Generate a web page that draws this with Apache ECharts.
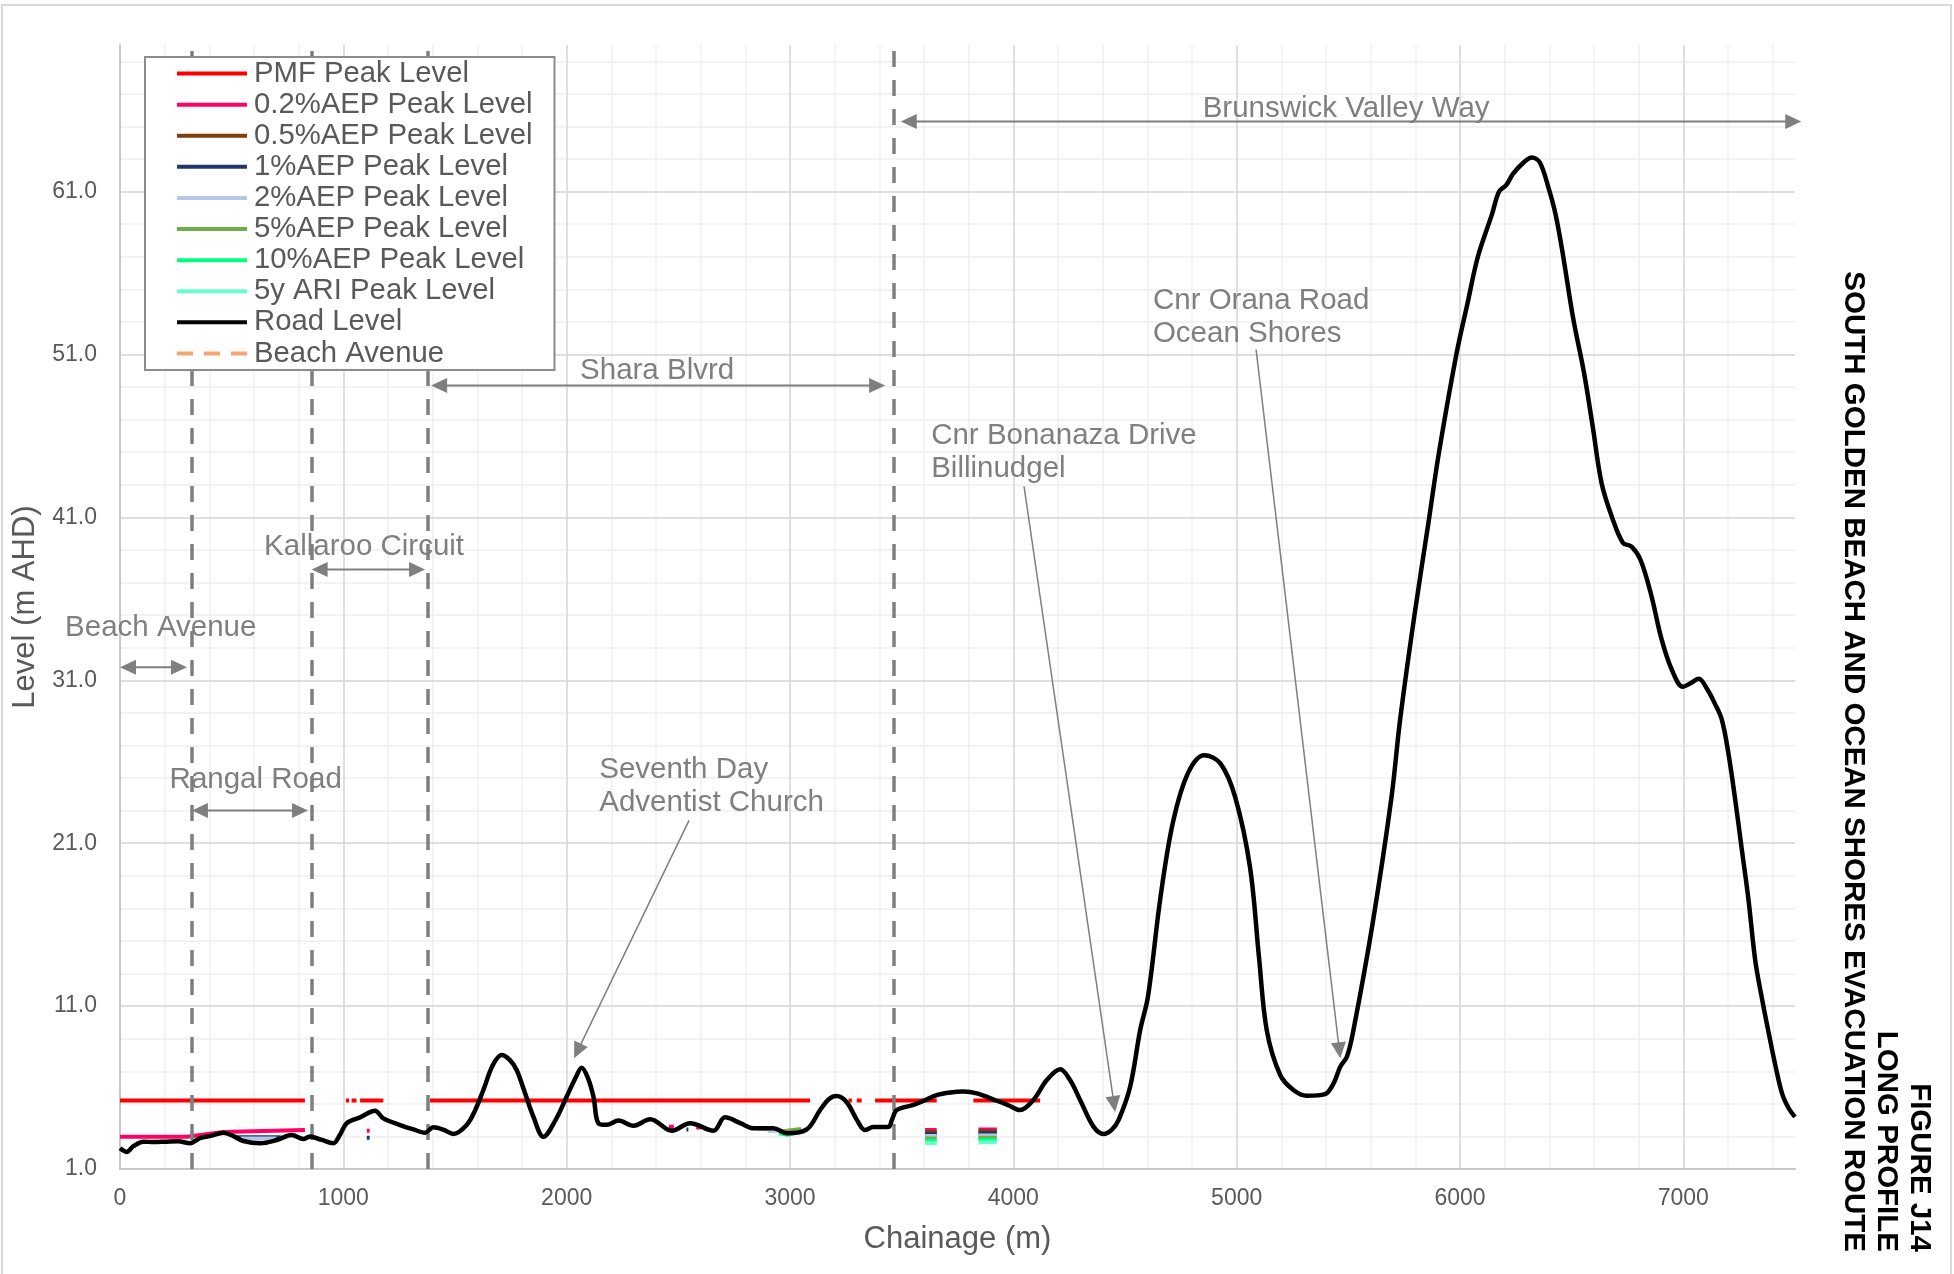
<!DOCTYPE html>
<html><head><meta charset="utf-8">
<script src="https://cdn.jsdelivr.net/npm/echarts@6/dist/echarts.min.js"></script>
<style>html,body{margin:0;padding:0;background:#fff}#c{width:1954px;height:1274px}</style>
</head><body><div id="c"></div>
<script>
// ---------- DATA ----------
const xTickValues = [0, 1000, 2000, 3000, 4000, 5000, 6000, 7000];
const yTickValues = [1, 11, 21, 31, 41, 51, 61];

const roadLevel = [
 [0,2.27],[30,2.05],[60,2.4],[104,2.68],[150,2.65],[209,2.68],[260,2.7],[313,2.58],[358,2.89],[410,3.05],
 [463,3.23],[510,3.0],[552,2.72],[627,2.58],[702,2.78],[769,3.09],[821,2.84],[851,3.0],[900,2.8],[955,2.58],
 [985,3.1],[1015,3.81],[1075,4.17],[1142,4.58],[1179,4.11],[1254,3.7],[1310,3.45],[1366,3.23],[1403,3.56],[1450,3.4],
 [1493,3.15],[1552,3.7],[1590,4.6],[1627,5.85],[1670,7.4],[1709,8.0],[1745,7.7],[1776,7.08],[1810,5.8],[1851,4.21],
 [1896,2.98],[1950,4.0],[2000,5.44],[2040,6.6],[2067,7.22],[2095,6.6],[2120,5.44],[2142,3.81],[2179,3.71],[2232,3.97],
 [2299,3.66],[2374,4.05],[2471,3.35],[2553,3.81],[2657,3.35],[2709,4.17],[2780,3.8],[2836,3.5],[2926,3.5],[2986,3.19],
 [3075,3.43],[3135,4.62],[3175,5.3],[3209,5.48],[3254,5.1],[3300,4.0],[3336,3.39],[3373,3.58],[3441,3.58],[3456,4.0],
 [3478,4.62],[3553,4.93],[3600,5.2],[3657,5.54],[3720,5.7],[3777,5.75],[3836,5.64],[3926,5.19],[3980,4.9],[4030,4.62],
 [4090,5.24],[4150,6.46],[4210,7.12],[4254,6.46],[4299,5.24],[4359,3.6],[4404,3.15],[4440,3.4],[4471,4.0],[4523,6.05],
 [4568,9.53],[4603,11.6],[4659,17.7],[4715,22.3],[4782,25.3],[4855,26.4],[4927,25.9],[4994,23.8],[5060,19.5],[5100,14.0],
 [5135,9.5],[5195,6.77],[5254,5.85],[5314,5.5],[5396,5.6],[5434,6.26],[5464,7.28],[5494,7.9],[5523,9.53],[5609,16.1],
 [5693,23.8],[5732,28.6],[5795,34.9],[5859,40.7],[5906,45.0],[5985,51.1],[6033,54.1],[6080,57.0],[6143,59.6],[6175,61.0],
 [6207,61.4],[6238,62.1],[6286,62.8],[6321,63.1],[6357,62.8],[6397,61.2],[6428,59.6],[6460,57.2],[6507,53.2],[6555,49.9],
 [6594,46.6],[6634,43.1],[6681,41.0],[6729,39.45],[6768,39.2],[6808,38.4],[6855,36.3],[6903,33.5],[6950,31.6],[6998,30.6],
 [7030,30.8],[7069,31.1],[7109,30.4],[7140,29.6],[7172,28.6],[7202,26.5],[7232,23.7],[7262,20.6],[7292,17.5],[7322,13.8],
 [7353,11.4],[7383,9.3],[7413,7.3],[7443,5.6],[7473,4.7],[7500,4.2]
];

const pmfLevel = [
 [0,5.2],[828,5.2],[830,'-'],[1012,5.2],[1026,5.2],[1030,'-'],[1037,5.2],[1059,5.2],[1065,'-'],[1075,5.2],[1179,5.2],[1185,'-'],
 [1388,5.2],[3090,5.2],[3100,'-'],[3262,5.2],[3277,5.2],[3285,'-'],[3299,5.2],[3321,5.2],[3330,'-'],[3381,5.2],[3657,5.2],[3700,'-'],
 [3821,5.2],[4120,5.2]
];
const aep02Level = [
 [0,2.98],[300,2.98],[463,3.27],[828,3.39],[830,'-'],[1105,3.35],[1118,3.35],[1120,'-'],[2458,3.6],[2480,3.6],[2485,'-'],
 [2580,3.55],[2600,3.55],[2605,'-'],[2855,3.52],[2900,3.52],[2905,'-'],[3605,3.39],[3657,3.39],[3700,'-'],[3844,3.43],[3926,3.43]
];
const aep05Level = [
 [2870,3.48],[2910,3.48],[2915,'-'],[3605,3.27],[3657,3.27],[3700,'-'],[3844,3.31],[3926,3.31]
];
const aep1Level = [
 [520,2.95],[720,2.95],[725,'-'],[1105,2.92],[1118,2.92],[1120,'-'],[2536,3.43],[2545,3.43],[2550,'-'],
 [3605,3.15],[3657,3.15],[3700,'-'],[3844,3.19],[3926,3.19]
];
const aep2Level = [
 [540,2.88],[700,2.88],[705,'-'],[2900,3.35],[2960,3.35],[2965,'-'],[3605,3.02],[3657,3.02],[3700,'-'],[3844,3.06],[3926,3.06]
];
const aep5Level = [
 [2960,3.3],[3050,3.45],[3055,'-'],[3605,2.88],[3657,2.88],[3700,'-'],[3844,2.92],[3926,2.92]
];
const aep10Level = [
 [2950,3.2],[2990,3.1],[3040,3.3],[3045,'-'],[3605,2.74],[3657,2.74],[3700,'-'],[3844,2.78],[3926,2.78]
];
const ari5yLevel = [
 [2850,3.45],[2880,3.45],[2885,'-'],[3605,2.6],[3657,2.6],[3700,'-'],[3844,2.64],[3926,2.64]
];
const beachAvenueLevel = [];

const sectionDividers = [322, 858, 1378, 3466];

// route sections (double arrows): [from, to, level]
const sectionNames = ['Beach Avenue','Rangal Road','Kallaroo Circuit','Shara Blvrd','Brunswick Valley Way'];
const sectionFrom  = [0, 322, 858, 1393, 3496];
const sectionTo    = [300, 842, 1366, 3426, 7528];
const sectionLevel = [31.8, 23.0, 37.8, 49.1, 65.3];

// point callouts (single arrows): text, arrow start, arrow tip
const calloutTexts = ['Seventh Day\nAdventist Church','Cnr Bonanaza Drive\nBillinudgel','Cnr Orana Road\nOcean Shores'];
const calloutFrom  = [[2548,22.4],[4048,42.9],[5087,51.3]];
const calloutTip   = [[2033,7.8],[4456,4.5],[5464,7.8]];

// ---------- STYLE / LAYOUT ----------
const FONT = '"Liberation Sans", Arial, sans-serif';
const GREY = '#7f7f7f';
const levelSeriesDefs = [
 {name:'PMF Peak Level', data:pmfLevel, color:'#FF0000'},
 {name:'0.2%AEP Peak Level', data:aep02Level, color:'#FF0066'},
 {name:'0.5%AEP Peak Level', data:aep05Level, color:'#843C0C'},
 {name:'1%AEP Peak Level', data:aep1Level, color:'#203864'},
 {name:'2%AEP Peak Level', data:aep2Level, color:'#B4C7E7'},
 {name:'5%AEP Peak Level', data:aep5Level, color:'#70AD47'},
 {name:'10%AEP Peak Level', data:aep10Level, color:'#00FF80'},
 {name:'5y ARI Peak Level', data:ari5yLevel, color:'#66FFCC'}
];

const series = levelSeriesDefs.map((d, i) => ({
  name: d.name, type:'line', xAxisIndex:1, yAxisIndex:1, data:d.data,
  symbol:'none', showSymbol:false, connectNulls:false, z: 3 + i * 0.01,
  lineStyle:{color:d.color, width:4}, itemStyle:{color:d.color},
  emphasis:{disabled:true}, animation:false
}));
series.push({
  name:'Road Level', type:'line', xAxisIndex:1, yAxisIndex:1, data:roadLevel,
  symbol:'none', showSymbol:false, smooth:0.35, z:5,
  lineStyle:{color:'#000', width:4.5}, itemStyle:{color:'#000'},
  emphasis:{disabled:true}, animation:false,
  markLine:{
    silent:true, symbol:'none', animation:false, label:{show:false},
    lineStyle:{color:GREY, width:3.5, type:[16,13]},
    data: sectionDividers.map(x => ({xAxis:x}))
  }
});
series.push({
  name:'Beach Avenue', type:'line', xAxisIndex:1, yAxisIndex:1, data:beachAvenueLevel,
  symbol:'none', lineStyle:{color:'#F4A672', width:4, type:[14,10]}, itemStyle:{color:'#F4A672'}, animation:false
});

const DASH_ICON = 'path://M0,0h16v4h-16z M27,0h16v4h-16z M54,0h16v4h-16z';
const legendNames = levelSeriesDefs.map(d => d.name).concat(['Road Level','Beach Avenue']);

const option = {
  animation:false,
  textStyle:{fontFamily:FONT},
  grid:{left:120, right:159, top:45, bottom:105, containLabel:false, outerBoundsMode:'none'},
  legend:{
    data:legendNames.map(n => ({name:n, icon: n === 'Beach Avenue' ? DASH_ICON : 'rect'})),
    orient:'vertical', left:145, top:57,
    padding:[1,22,1,32], itemGap:0, itemWidth:70, itemHeight:4,
    borderColor:'#8c8c8c', borderWidth:2, backgroundColor:'#fff',
    textStyle:{fontSize:29.3, color:'#595959', lineHeight:31.1, fontFamily:FONT, padding:[0,0,0,2]},
    selectedMode:false, z:20
  },
  xAxis:[
    {type:'value', position:'bottom', min:0, max:7500, interval:200, z:0,
     axisLine:{show:false}, axisTick:{show:false}, axisLabel:{show:false},
     splitLine:{show:true, showMaxLine:false, lineStyle:{color:'#efefef', width:1.5}}},
    {type:'value', position:'bottom', min:0, max:7500, interval:1000, z:1,
     name:'Chainage (m)', nameLocation:'middle', nameGap:55,
     nameTextStyle:{fontSize:31, color:'#595959', fontFamily:FONT},
     axisLine:{show:true, onZero:false, lineStyle:{color:'#c8c8c8', width:2}},
     axisTick:{show:false},
     axisLabel:{color:'#595959', fontSize:23, margin:18, fontFamily:FONT,
       formatter: v => xTickValues.includes(v) ? String(v) : ''},
     splitLine:{show:true, showMaxLine:false, lineStyle:{color:'#d9d9d9', width:1.5}}}
  ],
  yAxis:[
    {type:'value', position:'left', min:1, max:70, interval:2, z:0,
     axisLine:{show:false}, axisTick:{show:false}, axisLabel:{show:false},
     splitLine:{show:true, showMaxLine:false, lineStyle:{color:'#efefef', width:1.5}}},
    {type:'value', position:'left', min:1, max:70, interval:10, z:1,
     name:'Level (m AHD)', nameLocation:'middle', nameGap:72,
     nameTextStyle:{fontSize:31, color:'#595959', fontFamily:FONT},
     axisLine:{show:true, onZero:false, lineStyle:{color:'#c8c8c8', width:2}},
     axisTick:{show:false},
     axisLabel:{color:'#595959', fontSize:23, margin:23, fontFamily:FONT,
       formatter: v => yTickValues.includes(v) ? v.toFixed(1) : ''},
     splitLine:{show:true, showMaxLine:false, lineStyle:{color:'#d9d9d9', width:1.5}}}
  ],
  series
};

const chart = echarts.init(document.getElementById('c'), null, {renderer:'canvas'});
chart.setOption(option);

// ---------- ANNOTATIONS (placed through the chart's own scales) ----------
const toPx = p => chart.convertToPixel({xAxisIndex:1, yAxisIndex:1}, p);
const HEAD_L = 16, HEAD_W = 7.5;
function arrowEls(a, b, headA, headB, w) {
  const dx=b[0]-a[0], dy=b[1]-a[1], L=Math.hypot(dx,dy), ux=dx/L, uy=dy/L, nx=-uy, ny=ux;
  const els=[];
  const tri = (tip, sx, sy) => ({type:'polygon', z:60, silent:true,
    shape:{points:[[tip[0],tip[1]],
      [tip[0]-sx*HEAD_L+nx*HEAD_W, tip[1]-sy*HEAD_L+ny*HEAD_W],
      [tip[0]-sx*HEAD_L-nx*HEAD_W, tip[1]-sy*HEAD_L-ny*HEAD_W]]},
    style:{fill:GREY}});
  let s=[a[0],a[1]], e=[b[0],b[1]];
  if (headA) { s=[a[0]+ux*HEAD_L*0.7, a[1]+uy*HEAD_L*0.7]; els.push(tri(a,-ux,-uy)); }
  if (headB) { e=[b[0]-ux*HEAD_L*0.7, b[1]-uy*HEAD_L*0.7]; els.push(tri(b,ux,uy)); }
  els.push({type:'line', z:59, silent:true, shape:{x1:s[0],y1:s[1],x2:e[0],y2:e[1]}, style:{stroke:GREY, lineWidth:w}});
  return els;
}
function label(text, anchor, align) {
  const p = toPx(anchor);
  return {type:'text', z:58, silent:true, x:p[0], y:p[1],
    style:{text, fill:GREY, fontSize:29.5, fontFamily:FONT, lineHeight:33, align:align||'left', verticalAlign:'top'}};
}

// label anchors (data coords of the text's top-left / top-centre)
const sectionLabelAnchor = [[-246,35.25],[222,25.9],[645,40.2],[2405,51.0],[5490,67.1]];
const sectionLabelAlign = ['left','left','left','center','center'];
const calloutLabelAnchor = [[2146,26.5],[3632,47.0],[4625,55.3]];

const g = [];
g.push({type:'rect', z:0, silent:true, shape:{x:2, y:5, width:1949, height:1300}, style:{fill:null, stroke:'#d9d9d9', lineWidth:2}});
sectionNames.forEach((n, i) => {
  g.push(...arrowEls(toPx([sectionFrom[i], sectionLevel[i]]), toPx([sectionTo[i], sectionLevel[i]]), true, true, 2));
  g.push(label(n, sectionLabelAnchor[i], sectionLabelAlign[i]));
});
calloutTexts.forEach((t, i) => {
  g.push(...arrowEls(toPx(calloutFrom[i]), toPx(calloutTip[i]), false, true, 1.5));
  g.push(label(t, calloutLabelAnchor[i], 'left'));
});
// figure title, rotated clockwise, right-aligned to the bottom
const titleLines = ['FIGURE J14', 'LONG PROFILE', 'SOUTH GOLDEN BEACH AND OCEAN SHORES EVACUATION ROUTE'];
const titleX = [1919, 1886, 1853];
titleLines.forEach((t, i) => g.push({type:'text', z:60, silent:true, x:titleX[i], y:1252, rotation:-Math.PI/2,
  style:{text:t, fill:'#000', fontSize:29.5, fontWeight:'bold', fontFamily:FONT, align:'right', verticalAlign:'middle'}}));

chart.setOption({graphic:g});
</script></body></html>
